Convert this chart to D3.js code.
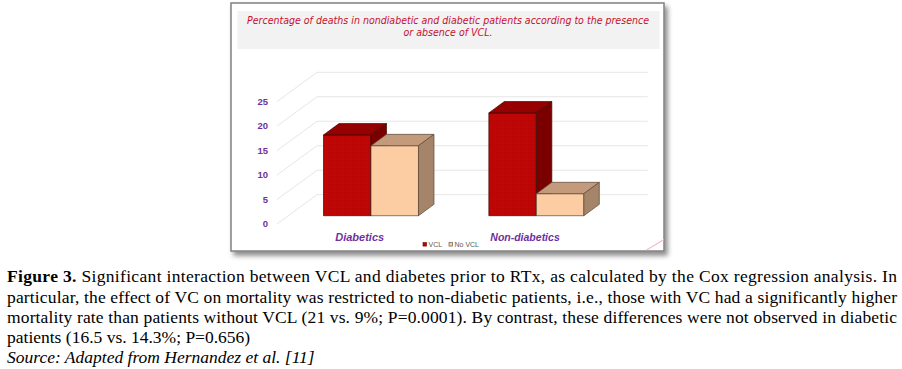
<!DOCTYPE html>
<html><head><meta charset="utf-8">
<script src="https://cdn.jsdelivr.net/npm/d3@7"></script>
<style>
html,body{margin:0;padding:0;background:#fff;}
svg{display:block;}
</style></head>
<body>
<svg id="c" width="902" height="369"></svg>
<script>
// ---- data ----
const categories = ["Diabetics", "Non-diabetics"];
const seriesNames = ["VCL", "No VCL"];
const vclValues = [16.5, 21];
const noVclValues = [14.3, 4.5];
const yTicks = [0, 5, 10, 15, 20, 25];
const titleLines = ["Percentage of deaths in nondiabetic and diabetic patients according to the presence", "or absence of VCL."];
const captionLines = [
  ["Figure 3.", " Significant interaction between VCL and diabetes prior to RTx, as calculated by the Cox regression analysis. In"],
  ["", "particular, the effect of VC on mortality was restricted to non-diabetic patients, i.e., those with VC had a significantly higher"],
  ["", "mortality rate than patients without VCL (21 vs. 9%; P=0.0001). By contrast, these differences were not observed in diabetic"],
  ["", "patients (16.5 vs. 14.3%; P=0.656)"]
];
const sourceLine = "Source: Adapted from Hernandez et al. [11]";

const svg = d3.select("#c");
const defs = svg.append("defs");
const f = defs.append("filter").attr("id","sh").attr("x","-5%").attr("y","-5%").attr("width","115%").attr("height","120%");
f.append("feDropShadow").attr("dx",3).attr("dy",4).attr("stdDeviation",2.5).attr("flood-color","#000").attr("flood-opacity",0.45);
const pat = defs.append("pattern").attr("id","dots").attr("width",2).attr("height",2).attr("patternUnits","userSpaceOnUse");
pat.append("rect").attr("width",2).attr("height",2).attr("fill","#c30505");
pat.append("rect").attr("width",1).attr("height",1).attr("fill","#b80202");

// frame
svg.append("rect").attr("x",231).attr("y",3).attr("width",433).attr("height",248)
  .attr("fill","#fff").attr("stroke","#808080").attr("stroke-width",1.5).attr("filter","url(#sh)");
svg.append("line").attr("x1",646.5).attr("y1",250).attr("x2",664).attr("y2",239.5)
  .attr("stroke","#f6b8d8").attr("stroke-width",1.2);

// title box
svg.append("rect").attr("x",237.5).attr("y",11).attr("width",422).attr("height",38).attr("fill","#f2f2f2");
svg.selectAll("text.title").data(titleLines).join("text").attr("class","title")
  .attr("x",448).attr("y",(d,i)=>23.5+i*12.8).attr("text-anchor","middle")
  .attr("font-family","DejaVu Sans, Verdana, sans-serif").attr("font-style","italic")
  .attr("font-size",9.6).attr("fill","#c8102e")
  .attr("textLength",(d,i)=>i===0?402:89).attr("lengthAdjust","spacingAndGlyphs")
  .text(d=>d);

// 3D projection
const DX = 40, DY = -29.3;
const y = d3.scaleLinear().domain([0,25]).range([224,101.6]);
const x0 = d3.scaleBand().domain(categories).range([277,607.7]).paddingInner(0.4255).paddingOuter(0.2128);
const x1 = d3.scaleBand().domain(seriesNames).range([0,x0.bandwidth()]);
const proj = (xf,v,z)=>[xf+DX*z, y(v)+DY*z];
const line = d3.line();

// gridlines (side wall + back wall)
svg.selectAll("path.grid").data(yTicks).join("path").attr("class","grid")
  .attr("d",t=>line([proj(277,t,0),proj(277,t,1),proj(607.7,t,1)]))
  .attr("fill","none").attr("stroke","#e6e6e6").attr("stroke-width",1);

// tick labels
svg.selectAll("text.tick").data(yTicks).join("text").attr("class","tick")
  .attr("x",268).attr("y",t=>y(t)+3.4).attr("text-anchor","end")
  .attr("font-family","Liberation Sans, Arial, sans-serif").attr("font-weight","bold")
  .attr("font-size",9.5).attr("fill","#7030a0").text(t=>t);

// bars
const Z0 = 0.283, Z1 = 0.67;
const styles = {
  "VCL": {front:"url(#dots)", top:"#960000", side:"#7a0000", stroke:"#3a0a05"},
  "No VCL": {front:"#fccca3", top:"#c39a7c", side:"#a58569", stroke:"#5a4535"}
};
const bars = [];
categories.forEach((c,i)=>{
  bars.push({cat:c, s:"VCL", v:vclValues[i]});
  bars.push({cat:c, s:"No VCL", v:noVclValues[i]});
});
const g = svg.append("g");
bars.forEach(b=>{
  const xl = x0(b.cat)+x1(b.s), xr = xl+x1.bandwidth(), v=b.v, st=styles[b.s];
  const faces = [
    {p:[proj(xl,0,Z0),proj(xr,0,Z0),proj(xr,v,Z0),proj(xl,v,Z0)], fill:st.front},
    {p:[proj(xl,v,Z0),proj(xr,v,Z0),proj(xr,v,Z1),proj(xl,v,Z1)], fill:st.top},
    {p:[proj(xr,0,Z0),proj(xr,0,Z1),proj(xr,v,Z1),proj(xr,v,Z0)], fill:st.side}
  ];
  faces.forEach(fc=>{
    g.append("path").attr("d",line(fc.p)+"Z").attr("fill",fc.fill)
      .attr("stroke",st.stroke).attr("stroke-width",0.7).attr("stroke-linejoin","round");
  });
});

// category labels
svg.selectAll("text.cat").data(categories).join("text").attr("class","cat")
  .attr("x",c=>x0(c)+x0.bandwidth()/2).attr("y",240.5).attr("text-anchor","middle")
  .attr("font-family","Liberation Sans, Arial, sans-serif").attr("font-weight","bold").attr("font-style","italic")
  .attr("font-size",(c,i)=>i===0?11:10.5).attr("fill","#7030a0").text(c=>c);

// legend
const leg = svg.append("g");
const legX = [423, 449];
seriesNames.forEach((s,i)=>{
  leg.append("rect").attr("x",legX[i]).attr("y",242.5).attr("width",3.6).attr("height",3.6)
    .attr("fill",i===0?"#c00000":"#fccca3").attr("stroke",i===0?"#7a0000":"#5a4535").attr("stroke-width",0.6);
  leg.append("text").attr("x",legX[i]+5.5).attr("y",246.5)
    .attr("font-family","Liberation Sans, Arial, sans-serif").attr("font-size",7).attr("fill","#595959").text(s);
});

// caption
const cap = svg.append("g").attr("font-family","Liberation Serif, Times New Roman, serif").attr("font-size",17.5).attr("fill","#000");
captionLines.forEach((ln,i)=>{
  const t = cap.append("text").attr("x",7).attr("y",282.3+i*20.2);
  if(i<3) t.attr("textLength",890).attr("lengthAdjust","spacing");
  if(ln[0]) t.append("tspan").attr("font-weight","bold").text(ln[0]);
  t.append("tspan").text(ln[1]);
});
cap.append("text").attr("x",7).attr("y",282.3+4*20.2).attr("font-style","italic").text(sourceLine);
</script>
</body></html>
